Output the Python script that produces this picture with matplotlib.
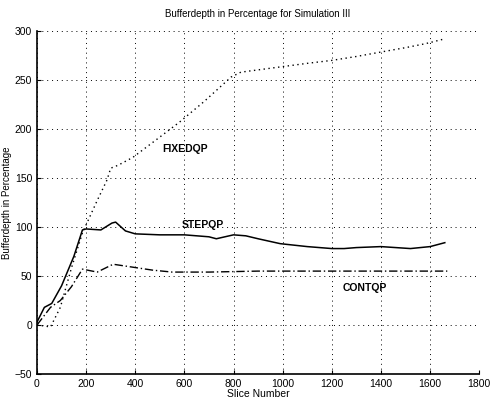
import numpy as np
import matplotlib.pyplot as plt

plt.rcParams['font.family'] = ['Liberation Sans', 'DejaVu Sans']

# buffer depth (%) per slice number, one list pair per scheme
fixed_x = [0, 30, 55, 95, 140, 185, 245, 285, 300, 330, 390, 480, 580, 680, 790, 830, 950, 1100, 1200, 1300, 1410, 1500, 1580, 1660]
fixed_y = [0, -1, -2, 18, 58, 94, 127, 148, 160, 163, 171, 188, 207, 228, 253, 258, 262, 267, 270, 274, 279, 283, 287, 292]

step_x = [0, 30, 60, 100, 150, 185, 200, 260, 305, 320, 360, 400, 500, 600, 700, 730, 800, 850, 900, 990, 1100, 1200, 1250, 1300, 1400, 1520, 1600, 1660]
step_y = [3, 18, 22, 40, 70, 97, 98, 97, 104, 105, 96, 93, 92, 92, 90, 88, 92, 91, 88, 83, 80, 78, 78, 79, 80, 78, 80, 84]

cont_x = [0, 55, 95, 140, 185, 245, 310, 390, 470, 550, 700, 900, 1100, 1300, 1500, 1670]
cont_y = [0, 18, 25, 39, 57, 54, 62, 59, 56, 54, 54, 55, 55, 55, 55, 55]

labels = [('FIXEDQP', 603, 180), ('STEPQP', 676, 102), ('CONTQP', 1333, 38)]

fig = plt.figure(figsize=(4.9, 4.0), dpi=100)
ax = fig.add_axes([0.0755, 0.065, 0.9025, 0.8575])

ax.plot(fixed_x, fixed_y, color='black', linestyle=(0, (1, 2.5)), linewidth=1.0)
ax.plot(step_x, step_y, color='black', linestyle='-', linewidth=1.1)
ax.plot(cont_x, cont_y, color='black', linestyle=(0, (6, 2, 1, 2)), linewidth=1.0)

for text, x, y in labels:
    ax.text(x, y, text, fontsize=7.5, ha='center', va='center', fontweight='semibold')

ax.set_xlim(0, 1800)
ax.set_ylim(-50, 300)
ax.set_xticks(np.arange(0, 1801, 200))
ax.set_yticks(np.arange(-50, 301, 50))
ax.grid(True, color='black', linestyle=(0, (1, 4)), linewidth=0.7)
ax.tick_params(direction='in', labelsize=7.5, length=3)
for side in ['top', 'right']:
    ax.spines[side].set_visible(False)
for side in ['left', 'bottom']:
    ax.spines[side].set_linewidth(1.2)

ax.set_title('Bufferdepth in Percentage for Simulation III', fontsize=7, pad=10)
ax.set_xlabel('Slice Number', fontsize=7.5, labelpad=0)
ax.set_ylabel('Bufferdepth in Percentage', fontsize=7, labelpad=2)

plt.savefig('out.png', dpi=100)
plt.close()
